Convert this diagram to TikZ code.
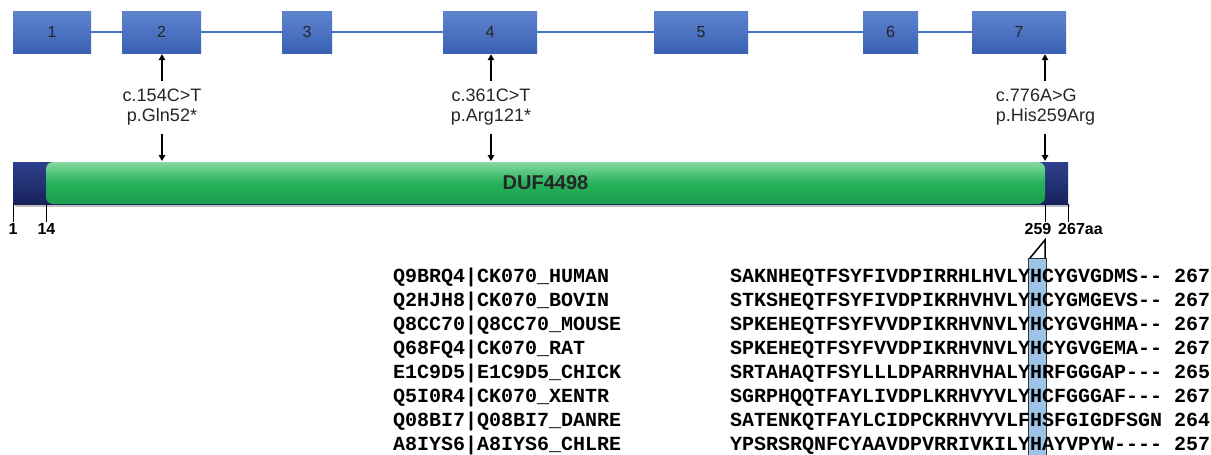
\documentclass[tikz,border=0pt]{standalone}
\usepackage{fontspec}
\setmainfont{Liberation Sans}
\newfontfamily\seqfont{Liberation Mono}
\usetikzlibrary{arrows.meta}
\definecolor{exontop}{HTML}{5F84CF}
\definecolor{exonbot}{HTML}{3A61B3}
\definecolor{intron}{HTML}{4472C4}
\definecolor{navytop}{HTML}{2E3F8E}
\definecolor{navybot}{HTML}{18235C}
\definecolor{grtop}{HTML}{86D9A0}
\definecolor{grmid}{HTML}{25B159}
\definecolor{grbot}{HTML}{1E9E4D}
\definecolor{hlfill}{HTML}{9DC3E6}
\newcommand\hy{\kern0pt-\kern0pt}
\begin{document}
\begin{tikzpicture}[x=1pt,y=-1pt,
  exon/.style={rectangle, minimum height=42pt, inner sep=0pt, top color=exontop, bottom color=exonbot, text=black!85, font=\fontsize{16}{18}\selectfont},
  intronline/.style={draw=intron, line width=2.5pt},
  mutlab/.style={inner sep=0pt, font=\fontsize{18}{20}\selectfont, text=black!85},
  mutarrow/.style={-{Triangle[length=6pt,width=6.5pt]}, line width=1.6pt, black},
  ticklab/.style={inner sep=0pt, font=\bfseries\fontsize{16}{18}\selectfont},
  tickline/.style={line width=1pt, black},
  seq/.style={inner sep=0pt, anchor=base west, font=\seqfont\bfseries\fontsize{20}{22}\selectfont}]
\useasboundingbox[fill=white] (0,0) rectangle (1211,455);
% exons
\node[exon, minimum width=78pt] (e1) at (52,32) {1};
\node[exon, minimum width=79pt] (e2) at (161.5,32) {2};
\node[exon, minimum width=50pt] (e3) at (307,32) {3};
\node[exon, minimum width=94pt] (e4) at (490,32) {4};
\node[exon, minimum width=94pt] (e5) at (701,32) {5};
\node[exon, minimum width=55pt] (e6) at (890.5,32) {6};
\node[exon, minimum width=94pt] (e7) at (1019,32) {7};
\draw[intronline] (e1.east) -- (e2.west);
\draw[intronline] (e2.east) -- (e3.west);
\draw[intronline] (e3.east) -- (e4.west);
\draw[intronline] (e4.east) -- (e5.west);
\draw[intronline] (e5.east) -- (e6.west);
\draw[intronline] (e6.east) -- (e7.west);
% protein bar
\fill[black!25] (15,205) rectangle (1070,207);
\node[rectangle, minimum width=1055pt, minimum height=42pt, inner sep=0pt, top color=navytop, bottom color=navybot] (prot) at (540.5,183) {};
\node[rectangle, rounded corners=7pt, minimum width=999pt, minimum height=42pt, inner sep=0pt, top color=grtop, bottom color=grbot, middle color=grmid, font=\bfseries\fontsize{20}{22}\selectfont, text=black!85] (duf) at (545.5,183) {DUF4498};
% mutations
\coordinate (b2) at (162,161);
\coordinate (b4) at (491,161);
\coordinate (b7) at (1045,161);
\node[mutlab, align=center] (m2) at (162,107) {c.154C>T\\p.Gln52*};
\node[mutlab, align=center] (m4) at (491,107) {c.361C>T\\p.Arg121*};
\node[mutlab, align=left] (m7) at (1045.5,107) {c.776A>G\\p.His259Arg};
\draw[mutarrow, shorten <=8pt, shorten >=1pt] (m2.north) -- (m2.north |- e2.south);
\draw[mutarrow, shorten <=9pt] (m2.south) -- (b2);
\draw[mutarrow, shorten <=8pt, shorten >=1pt] (m4.north) -- (m4.north |- e4.south);
\draw[mutarrow, shorten <=9pt] (m4.south) -- (b4);
\draw[mutarrow, shorten <=8pt, shorten >=1pt] (b7 |- m7.north) -- (b7 |- e7.south);
\draw[mutarrow, shorten <=9pt] (b7 |- m7.south) -- (b7);
% ticks
\coordinate (t1) at (13,222);
\coordinate (t14) at (46,222);
\coordinate (t259) at (1045,222);
\coordinate (t267) at (1068,222);
\draw[tickline] (t1 |- prot.south) -- (t1);
\draw[tickline] (t14 |- prot.south) -- (t14);
\draw[tickline] (t259 |- prot.south) -- (t259);
\draw[tickline] (t267 |- prot.south) -- (t267);
\node[ticklab] (l1) at (13,229) {1};
\node[ticklab] (l14) at (46.5,229) {14};
\node[ticklab] (l259) at (1038,229) {259};
\node[ticklab, anchor=west] (l267) at (1058,229) {267aa};
% highlight column
\node[rectangle, draw=black!80, line width=1pt, fill=hlfill, minimum width=18pt, minimum height=200pt, inner sep=0pt, anchor=north west] (hl) at (1028,258) {};
\coordinate (z) at (1045,240);
\draw[line width=1.5pt] ([xshift=2pt]hl.north west) -- (z) -- (z |- hl.north);
% alignment
\node[seq] (n1) at (393,282.6) {Q9BRQ4|CK070\_HUMAN};
\node[seq] (n2) at (393,306.6) {Q2HJH8|CK070\_BOVIN};
\node[seq] (n3) at (393,330.6) {Q8CC70|Q8CC70\_MOUSE};
\node[seq] (n4) at (393,354.6) {Q68FQ4|CK070\_RAT};
\node[seq] (n5) at (393,378.6) {E1C9D5|E1C9D5\_CHICK};
\node[seq] (n6) at (393,402.6) {Q5I0R4|CK070\_XENTR};
\node[seq] (n7) at (393,426.6) {Q08BI7|Q08BI7\_DANRE};
\node[seq] (n8) at (393,450.6) {A8IYS6|A8IYS6\_CHLRE};
\node[seq] (s1) at (730,282.6) {SAKNHEQTFSYFIVDPIRRHLHVLYHCYGVGDMS\hy\hy\ 267};
\node[seq] (s2) at (730,306.6) {STKSHEQTFSYFIVDPIKRHVHVLYHCYGMGEVS\hy\hy\ 267};
\node[seq] (s3) at (730,330.6) {SPKEHEQTFSYFVVDPIKRHVNVLYHCYGVGHMA\hy\hy\ 267};
\node[seq] (s4) at (730,354.6) {SPKEHEQTFSYFVVDPIKRHVNVLYHCYGVGEMA\hy\hy\ 267};
\node[seq] (s5) at (730,378.6) {SRTAHAQTFSYLLLDPARRHVHALYHRFGGGAP\hy\hy\hy\ 265};
\node[seq] (s6) at (730,402.6) {SGRPHQQTFAYLIVDPLKRHVYVLYHCFGGGAF\hy\hy\hy\ 267};
\node[seq] (s7) at (730,426.6) {SATENKQTFAYLCIDPCKRHVYVLFHSFGIGDFSGN 264};
\node[seq] (s8) at (730,450.6) {YPSRSRQNFCYAAVDPVRRIVKILYHAYVPYW\hy\hy\hy\hy\ 257};
\end{tikzpicture}
\end{document}
